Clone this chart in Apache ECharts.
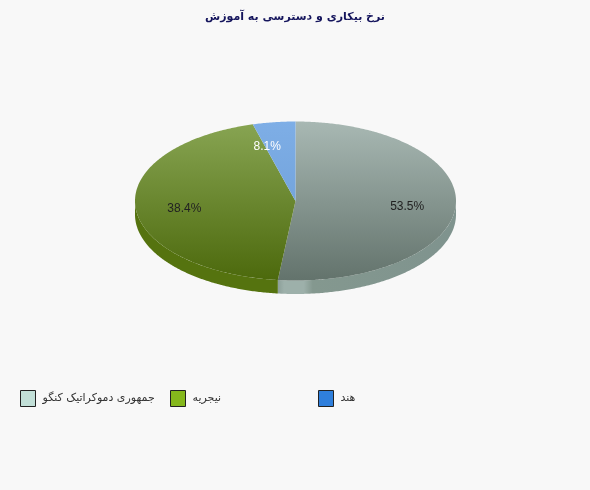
<!DOCTYPE html>
<html><head><meta charset="utf-8">
<style>html,body{margin:0;padding:0;background:#f8f8f8}#c{width:590px;height:490px}</style>
<script src="https://cdn.jsdelivr.net/npm/echarts@6/dist/echarts.min.js"></script>
</head><body><div id="c"></div>
<script>
const chartTitle = 'نرخ بیکاری و دسترسی به آموزش';
const categories = ['جمهوری دموکراتیک کنگو', 'نیجریه', 'هند'];
const values = [53.5, 38.4, 8.1];
const legendColors = ['#c2e0d8', '#85b81c', '#2f7fdc'];
const legendLefts = [20, 170, 318];
const topColors = [['#a8b8b3', '#63736c'], ['#88a553', '#4c690c'], ['#7eaee6', '#6a9bd4']];
const labelColors = ['#222', '#222', '#fff'];

const CX = 295.5, CY = 201, RX = 160.5, RY = 79.5, DEPTH = 13.5, LABEL_R = 0.7;
const total = values.reduce((a, b) => a + b, 0);
const rad = d => d * Math.PI / 180;
// edges lie at their true angle on screen, on the flattened outline
function param(deg) {
  const a = rad(deg);
  return Math.atan2(Math.sin(a) * RY, Math.cos(a) * RX) + (deg > 180 ? Math.PI * 2 : 0);
}
function arcPoints(t0, t1, dy) {
  const pts = [], n = Math.max(2, Math.ceil(Math.abs(t1 - t0) / 0.01));
  for (let i = 0; i <= n; i++) {
    const t = t0 + (t1 - t0) * i / n;
    pts.push([CX + RX * Math.sin(t), CY - RY * Math.cos(t) + dy]);
  }
  return pts;
}
function sideFill(i) {
  if (i === 0) {
    return { type: 'linear', global: true, x: 277, y: 0, x2: 456, y2: 0, colorStops: [
      { offset: 0, color: '#8a9d97' }, { offset: 0.04, color: '#9db0aa' },
      { offset: 0.15, color: '#9db0aa' }, { offset: 0.2, color: '#84988f' },
      { offset: 1, color: '#7f938e' }] };
  }
  return '#55730f';
}
function renderSlice(i) {
  return function (params, api) {
    const start = values.slice(0, i).reduce((a, b) => a + b, 0) / total * 360;
    const end = start + api.value(0) / total * 360;
    const t0 = param(start), t1 = param(Math.min(end, 359.999));
    const children = [];
    const s0 = Math.max(t0, Math.PI / 2), s1 = Math.min(t1, Math.PI * 1.5);
    if (s1 > s0) {
      const outer = arcPoints(s0, s1, 0).concat(arcPoints(s1, s0, DEPTH));
      children.push({ type: 'polygon', shape: { points: outer }, style: { fill: sideFill(i) } });
    }
    const face = [[CX, CY]].concat(arcPoints(t0, t1, 0));
    children.push({ type: 'polygon', shape: { points: face }, style: {
      fill: { type: 'linear', global: true, x: 0, y: CY - RY, x2: 0, y2: CY + RY, colorStops: [
        { offset: 0, color: topColors[i][0] }, { offset: 1, color: topColors[i][1] }] } } });
    const mid = rad((start + end) / 2);
    children.push({ type: 'text', style: {
      x: CX + LABEL_R * RX * Math.sin(mid), y: CY - LABEL_R * RY * Math.cos(mid),
      text: api.value(0).toFixed(1) + '%', fill: labelColors[i],
      font: '12px "Liberation Sans", Arial, sans-serif', align: 'center', verticalAlign: 'middle' }, z2: 10 });
    return { type: 'group', children };
  };
}
const chart = echarts.init(document.getElementById('c'), null, { renderer: 'canvas' });
chart.setOption({
  animation: false,
  backgroundColor: '#f8f8f8',
  title: { text: chartTitle, left: 'center', top: 12, padding: 0, textStyle: {
    color: '#14145c', fontSize: 11, fontWeight: 'bold', fontFamily: '"DejaVu Sans", Tahoma, sans-serif' } },
  legend: categories.map((name, i) => ({
    left: legendLefts[i], top: 390, padding: 0, itemGap: 0, itemWidth: 15, itemHeight: 16, icon: 'rect', selectedMode: false,
    data: [name],
    itemStyle: { borderColor: '#222', borderWidth: 1 },
    textStyle: { color: '#333', fontSize: 11,
      fontFamily: '"DejaVu Sans", Tahoma, sans-serif', padding: [-6, 0, 0, 2] }
  })),
  series: categories.map((name, i) => ({
    type: 'custom', name, coordinateSystem: 'none', silent: true,
    itemStyle: { color: legendColors[i] },
    data: [[values[i]]],
    renderItem: renderSlice(i)
  }))
});
</script></body></html>
